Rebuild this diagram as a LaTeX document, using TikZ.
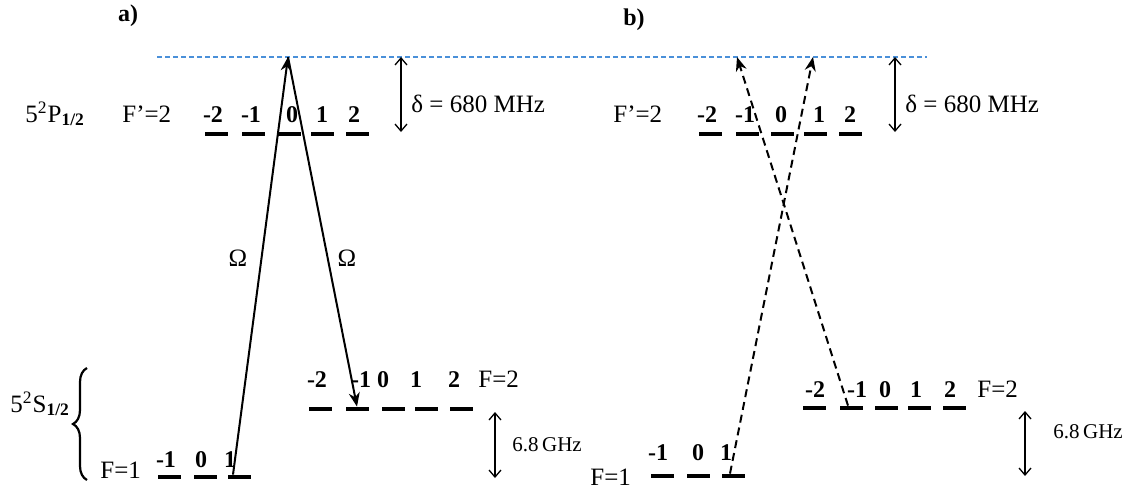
\documentclass[tikz,border=0pt]{standalone}
\usepackage{fontspec}
\setmainfont{Liberation Serif}
\usetikzlibrary{arrows.meta,positioning,decorations.pathreplacing}
\definecolor{virtblue}{HTML}{4A90D9}
\tikzset{
  lvl/.style={rectangle, fill=black, inner sep=0pt, minimum width=11.5pt, minimum height=2pt},
  mlbl/.style={inner sep=0pt, anchor=base, font=\fontsize{12}{14}\selectfont\bfseries},
  txt/.style={inner sep=0pt, anchor=base west, font=\fontsize{12.5}{15}\selectfont},
  ghz/.style={inner sep=0pt, anchor=west, font=\fontsize{10.5}{12}\selectfont},
  panel/.style={inner sep=0pt, font=\fontsize{12}{14}\selectfont\bfseries},
  pump/.style={-{Stealth[length=7pt,width=5.5pt]}, line width=1pt},
  pumpd/.style={pump, dash pattern=on 4pt off 2.5pt},
  splitarr/.style={{Straight Barb[length=3.5pt,width=6pt]}-{Straight Barb[length=3.5pt,width=6pt]}, line width=0.65pt},
  virtline/.style={draw=virtblue, line width=0.6pt, dash pattern=on 2.5pt off 1.5pt}
}
\begin{document}
\begin{tikzpicture}[x=0.5pt, y=-0.5pt]
 \useasboundingbox (0,0) rectangle (1130,488);
 % virtual level
 \coordinate (vl) at (157,57); \coordinate (vr) at (927,57);
 \draw[virtline] (vl) -- (vr);
 \node[panel] (ta) at (128,16) {a)};
 \node[panel] (tb) at (634,20) {b)};

 % panel a, excited level
 \node[txt] (aP) at (25,122) {5\textsuperscript{2}P\textsubscript{\bfseries 1/2}};
 \node[txt] (aFe) at (122,122) {F’=2};
 \node[lvl] (ae-m2) at (216,134) {}; \node[mlbl] at (213,122) {-2};
 \node[lvl] (ae-m1) at (253,134) {}; \node[mlbl] at (251,122) {-1};
 \node[lvl] (ae-0)  at (289,134) {}; \node[mlbl] at (292,122) {0};
 \node[lvl] (ae-p1) at (322,134) {}; \node[mlbl] at (322,122) {1};
 \node[lvl] (ae-p2) at (357,134) {}; \node[mlbl] at (354,122) {2};
 % panel a, ground levels
 \node[txt] (aS) at (10,412) {5\textsuperscript{2}S\textsubscript{\bfseries 1/2}};
 \draw[decorate, decoration={brace, amplitude=7pt}, line width=1.1pt] (87,480) -- (87,368);
 \node[txt] (aF1) at (100,478) {F=1};
 \node[lvl] (ag1-m1) at (169,477) {}; \node[mlbl] at (166,467) {-1};
 \node[lvl] (ag1-0)  at (205,477) {}; \node[mlbl] at (201,467) {0};
 \node[lvl] (ag1-p1) at (239,477) {}; \node[mlbl] at (230,467) {1};
 \node[lvl] (ag2-m2) at (320,409) {}; \node[mlbl] at (317,387) {-2};
 \node[lvl] (ag2-m1) at (357,409) {}; \node[mlbl] at (361,387) {-1};
 \node[lvl] (ag2-0)  at (393,409) {}; \node[mlbl] at (383,387) {0};
 \node[lvl] (ag2-p1) at (426,409) {}; \node[mlbl] at (416,387) {1};
 \node[lvl] (ag2-p2) at (461,409) {}; \node[mlbl] at (454,387) {2};
 \node[txt] (aF2) at (478,387) {F=2};
 % panel a, splittings
 \coordinate (adt) at (401,57); \coordinate (adb) at (401,132);
 \draw[splitarr] (adt) -- (adb);
 \node[txt] (ad) at (411,112) {δ = 680 MHz};
 \coordinate (agt) at (495,412); \coordinate (agb) at (495,478);
 \draw[splitarr] (agt) -- (agb);
 \node[ghz] (ag) at (512,445) {6.8\,GHz};
 % panel a, Raman beams
 \coordinate (av) at (288,57);
 \draw[pump] ([xshift=-3pt]ag1-p1.north) -- (av);
 \draw[pump] (av) -- (ag2-m1.north);
 \node[txt, anchor=center] (aO1) at (238,258) {Ω};
 \node[txt, anchor=center] (aO2) at (347,258) {Ω};

 % panel b, excited level
 \node[txt] (bFe) at (613,122) {F’=2};
 \node[lvl] (be-m2) at (710,134) {}; \node[mlbl] at (707,122) {-2};
 \node[lvl] (be-m1) at (747,134) {}; \node[mlbl] at (745,122) {-1};
 \node[lvl] (be-0)  at (782,134) {}; \node[mlbl] at (781,122) {0};
 \node[lvl] (be-p1) at (815,134) {}; \node[mlbl] at (819,122) {1};
 \node[lvl] (be-p2) at (850,134) {}; \node[mlbl] at (850,122) {2};
 % panel b, ground levels
 \node[txt] (bF1) at (590,485) {F=1};
 \node[lvl] (bg1-m1) at (662,476) {}; \node[mlbl] at (658,460) {-1};
 \node[lvl] (bg1-0)  at (698,476) {}; \node[mlbl] at (698,460) {0};
 \node[lvl] (bg1-p1) at (733,476) {}; \node[mlbl] at (726,460) {1};
 \node[lvl] (bg2-m2) at (814,408) {}; \node[mlbl] at (815,397) {-2};
 \node[lvl] (bg2-m1) at (851,408) {}; \node[mlbl] at (857,397) {-1};
 \node[lvl] (bg2-0)  at (886,408) {}; \node[mlbl] at (885,397) {0};
 \node[lvl] (bg2-p1) at (919,408) {}; \node[mlbl] at (916,397) {1};
 \node[lvl] (bg2-p2) at (954,408) {}; \node[mlbl] at (950,397) {2};
 \node[txt] (bF2) at (977,397) {F=2};
 % panel b, splittings
 \coordinate (bdt) at (895,57); \coordinate (bdb) at (895,132);
 \draw[splitarr] (bdt) -- (bdb);
 \node[txt] (bd) at (905,112) {δ = 680 MHz};
 \coordinate (bgt) at (1025,411); \coordinate (bgb) at (1025,476);
 \draw[splitarr] (bgt) -- (bgb);
 \node[ghz] (bg) at (1053,432) {6.8\,GHz};
 % panel b, crossed beams
 \coordinate (bvl) at (737,57); \coordinate (bvr) at (813,57);
 \draw[pumpd] ([xshift=-1.5pt]bg2-m1.north) -- (bvl);
 \draw[pumpd] ([xshift=-1.5pt]bg1-p1.north) -- (bvr);
\end{tikzpicture}
\end{document}
